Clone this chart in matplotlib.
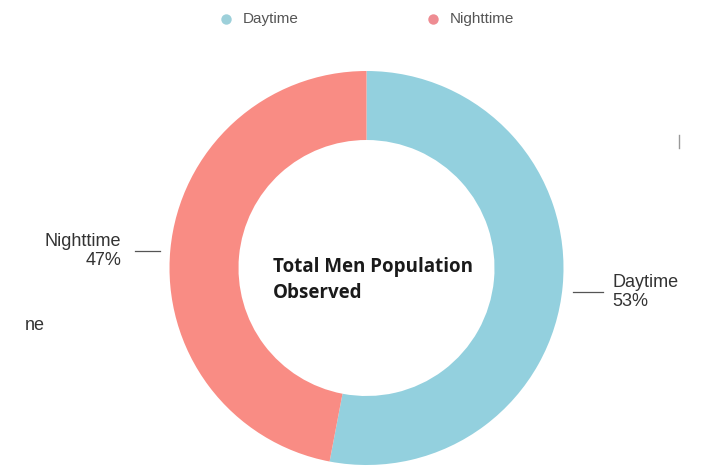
import numpy as np
import matplotlib
matplotlib.use("Agg")
import matplotlib.pyplot as plt

# Data
categories = ["Daytime", "Nighttime"]
shares = [53, 47]
colors = ["#93D0DE", "#F98C84"]
legend_colors = ["#9DD0DA", "#EE8C92"]
center_title = "Total Men Population\nObserved"

W, H = 702, 470
fig = plt.figure(figsize=(W / 100, H / 100), dpi=100)
ax = fig.add_axes([0, 0, 1, 1])

cx, cy = 366.5, H - 268
r_out, r_in = 197, 128

ax.pie(shares, colors=colors, startangle=90, counterclock=False,
       radius=r_out, center=(cx, cy),
       wedgeprops=dict(width=r_out - r_in, linewidth=0),
       frame=True)
ax.set_xlim(0, W)
ax.set_ylim(0, H)
ax.set_aspect("equal")
ax.axis("off")

# Center title
ax.text(273, H - 280, center_title, ha="left", va="center", fontsize=13.5,
        fontweight="bold", family="Open Sans", color="#1a1a1a", linespacing=1.45)

# Outer labels with leader lines
label_font = dict(fontsize=13, family="Liberation Sans", color="#333333")
ax.plot([573, 603], [H - 292, H - 292], color="#555555", lw=0.9)
ax.text(612, H - 292, f"{categories[0]}\n{shares[0]}%", ha="left", va="center",
        linespacing=1.1, **label_font)
ax.plot([135, 160], [H - 251, H - 251], color="#555555", lw=0.9)
ax.text(121, H - 251, f"{categories[1]}\n{shares[1]}%", ha="right", va="center",
        multialignment="right", linespacing=1.1, **label_font)

# Partial label at the left edge
ax.text(25, H - 325, "ne", ha="left", va="center", **label_font)
ax.plot([679, 679], [H - 135, H - 148], color="#999999", lw=1)

# Legend
for xd, name, col in [(226, categories[0], legend_colors[0]),
                      (433, categories[1], legend_colors[1])]:
    ax.plot(xd, H - 19, "o", ms=7.5, color=col, mec="none")
    ax.text(xd + 17, H - 19, name, ha="left", va="center", fontsize=11,
            family="Liberation Sans", color="#555555")

fig.savefig("out.png", dpi=100, facecolor="white")
